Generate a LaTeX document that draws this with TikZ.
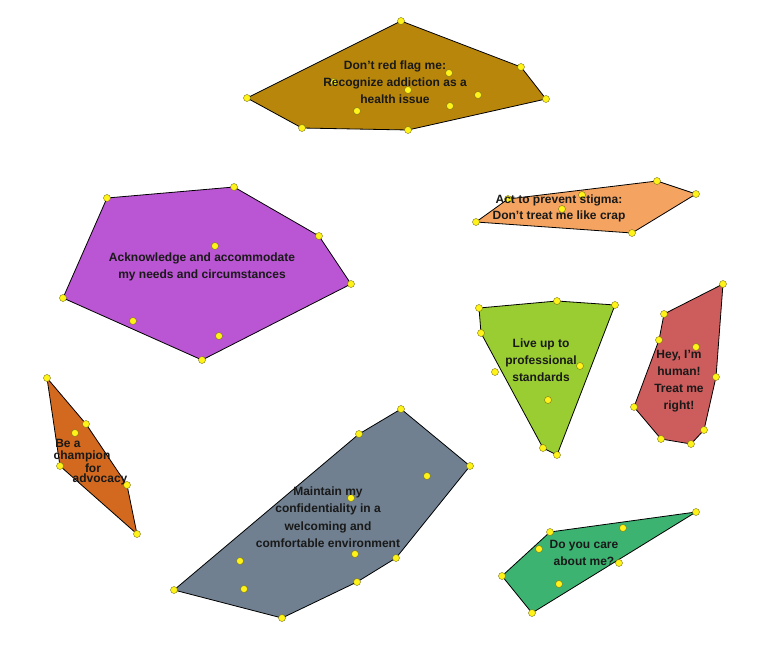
\documentclass[tikz,border=0pt]{standalone}
\usepackage{fontspec}
\setmainfont{Liberation Sans}
\begin{document}
\begin{tikzpicture}[x=1pt,y=-1pt,
  hull/.style={draw=black,line width=0.8pt,line join=round},
  pt/.style={circle,draw=olive!80!black,fill=yellow!90!white,line width=0.4pt,inner sep=0pt,minimum size=7pt},
  lab/.style={align=center,font=\bfseries\fontsize{12}{17}\selectfont,text=black!90}]
\useasboundingbox (0,0) rectangle (764,648);
\newcommand\pts[1]{\foreach \p in {#1} \node[pt] at \p {};}
% brown
\draw[hull,fill={rgb,255:red,184;green,134;blue,11}] (401,21)--(521,67)--(546,99)--(408,130)--(302,128)--(247,98)--cycle;
\pts{(401,21),(521,67),(546,99),(408,130),(302,128),(247,98),(334,82),(449,73),(408,90),(478,95),(450,106),(357,111)}
\node[lab] (brown) at (395,82) {Don’t red flag me:\\Recognize addiction as a\\health issue};
% sandy
\draw[hull,fill={rgb,255:red,244;green,164;blue,96}] (476,222)--(508,199)--(657,181)--(696,194)--(632,233)--cycle;
\pts{(476,222),(508,199),(657,181),(696,194),(632,233),(582,195),(562,209)}
\node[lab,font=\bfseries\fontsize{12}{16}\selectfont] (sandy) at (559,208) {Act to prevent stigma:\\Don’t treat me like crap};
% purple
\draw[hull,fill={rgb,255:red,186;green,85;blue,211}] (107,198)--(234,187)--(319,236)--(351,284)--(202,360)--(63,298)--cycle;
\pts{(107,198),(234,187),(319,236),(351,284),(202,360),(63,298),(215,246),(133,321),(219,336)}
\node[lab] (purple) at (202,267) {Acknowledge and accommodate\\my needs and circumstances};
% yellowgreen
\draw[hull,fill={rgb,255:red,154;green,205;blue,50}] (479,308)--(557,301)--(615,305)--(557,455)--(543,448)--(481,333)--cycle;
\pts{(479,308),(557,301),(615,305),(557,455),(543,448),(481,333),(495,372),(580,366),(548,400)}
\node[lab] (ygreen) at (541,360) {Live up to\\professional\\standards};
% red
\draw[hull,fill={rgb,255:red,205;green,92;blue,92}] (723,284)--(716,377)--(704,430)--(691,444)--(661,439)--(634,407)--(659,340)--(664,314)--cycle;
\pts{(723,284),(716,377),(704,430),(691,444),(661,439),(634,407),(659,340),(664,314),(696,347)}
\node[lab] (red) at (679,381) {Hey, I’m\\human!\\Treat me\\right!};
% chocolate
\draw[hull,fill={rgb,255:red,210;green,105;blue,30}] (47,378)--(86,424)--(127,485)--(137,534)--(60,466)--cycle;
\pts{(47,378),(86,424),(127,485),(137,534),(60,466),(75,433)}
\begin{scope}[every node/.style={lab,font=\bfseries\fontsize{12}{12}\selectfont,inner sep=0pt}]
\node (c1) at (68,443) {Be a};
\node (c2) at (82,456) {champion};
\node (c3) at (93,468) {for};
\node (c4) at (100,479) {advocacy};
\end{scope}
% slate gray
\draw[hull,fill={rgb,255:red,112;green,128;blue,144}] (401,409)--(470,466)--(396,558)--(357,582)--(282,618)--(174,590)--(359,434)--cycle;
\pts{(401,409),(470,466),(396,558),(357,582),(282,618),(174,590),(359,434),(427,476),(351,498),(240,561),(355,554),(244,589)}
\node[lab,font=\bfseries\fontsize{12}{17.5}\selectfont] (gray) at (328,517) {Maintain my\\confidentiality in a\\welcoming and\\comfortable environment};
% green
\draw[hull,fill={rgb,255:red,60;green,179;blue,113}] (696,512)--(550,532)--(502,576)--(532,613)--cycle;
\pts{(696,512),(550,532),(502,576),(532,613),(623,528),(539,549),(619,563),(559,584)}
\node[lab] (green) at (584,553) {Do you care\\about me?};
\end{tikzpicture}
\end{document}
